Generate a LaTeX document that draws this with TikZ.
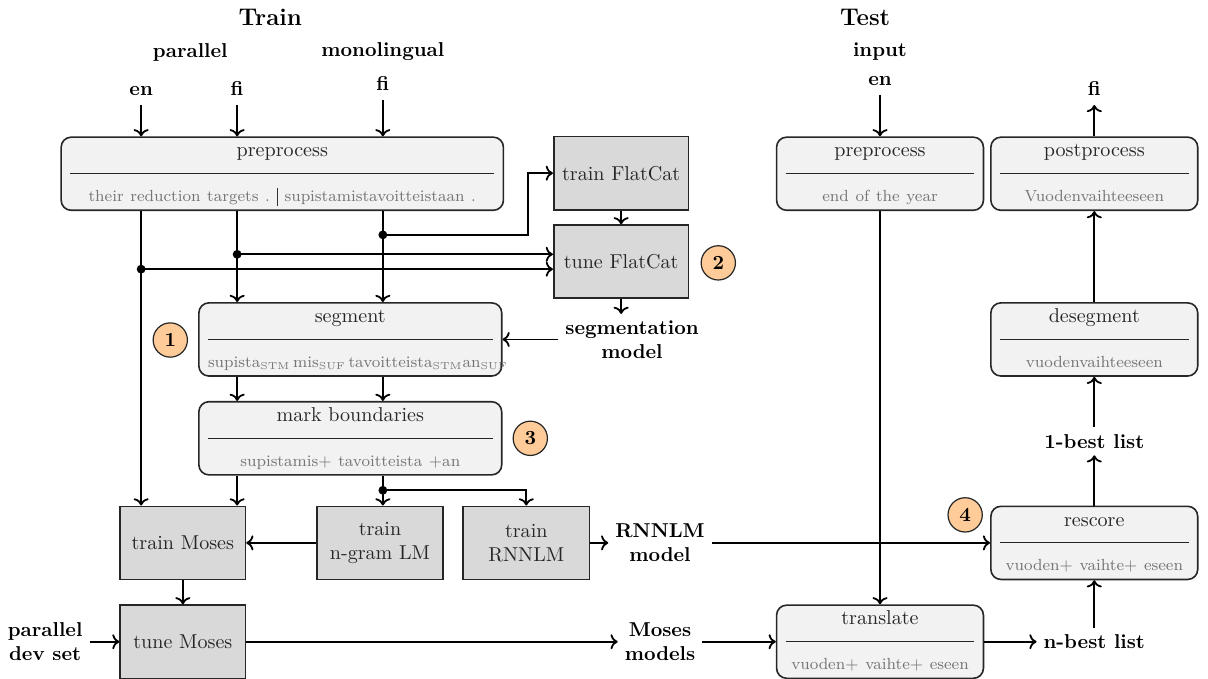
\documentclass[tikz,border=0pt]{standalone}
\usepackage{tikz}
\usetikzlibrary{arrows.meta,positioning,calc}
\usepackage{xcolor}
\definecolor{subgray}{RGB}{118,118,118}
\definecolor{numfill}{RGB}{255,204,153}

% title, rule and example line of a processing stage
\newcommand{\stagetext}[2]{\strut#1\par\vspace{4.5pt}\hrule height 0.5pt\vspace{7pt}{\footnotesize\color{subgray}\strut#2\par}}
\newcommand{\langsep}{\ {\color{black!80}\rule[-0.6ex]{0.6pt}{2.6ex}}\ }
\newcommand{\mtag}[1]{$_{\scriptscriptstyle\mathrm{#1}}$}

\begin{document}
\begin{tikzpicture}[
    stage/.style={draw=black!85, thick, rounded corners=5pt, fill=gray!10, minimum height=1.28cm, inner xsep=0.16cm, inner ysep=0pt, align=center, text=black!85},
    tool/.style={draw=black!85, thick, fill=gray!30, minimum height=1.28cm, align=center, text=black!85},
    num/.style={circle, draw=black!85, semithick, fill=numfill, minimum size=0.6cm, inner sep=0pt, font=\bfseries},
    lbl/.style={font=\bfseries, align=center},
    src/.style={font=\bfseries, text height=1.5ex, text depth=0.25ex},
    flow/.style={->, line width=0.9pt}
]
\useasboundingbox (0,0) rectangle (21.14,-11.88);

% Headers and inputs
\node[lbl, font=\large\bfseries] (train) at (4.73,-0.30) {Train};
\node[lbl, font=\large\bfseries] (test) at (15.14,-0.30) {Test};
\node[lbl] (par) at (3.33,-0.91) {parallel};
\node[lbl] (mono) at (6.70,-0.91) {monolingual};
\node[lbl] (inp) at (15.40,-0.91) {input};
\node[src] (en) at (2.47,-1.58) {en};
\node[src] (fi) at (4.15,-1.58) {fi};
\node[src] (monofi) at (6.70,-1.49) {fi};
\node[src] (ten) at (15.40,-1.40) {en};
\node[src] (outfi) at (19.15,-1.58) {fi};

% Training side
\node[stage, text width=7.42cm] (pre) at (4.94,-3.04) {\stagetext{preprocess}{their reduction targets .\langsep supistamistavoitteistaan .}};
\node[tool, minimum width=2.36cm] (trainfc) at (10.87,-3.03) {train FlatCat};
\node[tool, minimum width=2.36cm] (tunefc) at (10.87,-4.58) {tune FlatCat};
\node[num] (n2) at (12.57,-4.60) {2};
\node[lbl] (segmodel) at (11.06,-5.95) {segmentation\\model};
\node[stage, text width=4.98cm] (seg) at (6.13,-5.94) {\stagetext{segment}{supista\mtag{STM}\,mis\mtag{SUF}\,tavoitteista\mtag{STM}an\mtag{SUF}}};
\node[num] (n1) at (2.98,-5.95) {1};
\node[stage, text width=4.98cm] (mark) at (6.13,-7.67) {\stagetext{mark boundaries}{supistamis+ tavoitteista +an}};
\node[num] (n3) at (9.28,-7.67) {3};
\node[tool, minimum width=2.19cm] (trainmoses) at (3.20,-9.50) {train Moses};
\node[tool, minimum width=2.21cm] (ngram) at (6.65,-9.50) {train\\n-gram LM};
\node[tool, minimum width=2.21cm] (rnnlm) at (9.21,-9.50) {train\\RNNLM};
\node[lbl] (rnnmodel) at (11.55,-9.50) {RNNLM\\model};
\node[tool, minimum width=2.19cm] (tunemoses) at (3.20,-11.23) {tune Moses};
\node[lbl] (devset) at (0.79,-11.23) {parallel\\dev set};
\node[lbl] (mosesmodels) at (11.55,-11.23) {Moses\\models};

% Test side
\node[stage, text width=3.30cm] (tpre) at (15.40,-3.04) {\stagetext{preprocess}{end of the year}};
\node[stage, text width=3.30cm] (post) at (19.15,-3.04) {\stagetext{postprocess}{Vuodenvaihteeseen}};
\node[stage, text width=3.30cm] (deseg) at (19.15,-5.94) {\stagetext{desegment}{vuodenvaihteeseen}};
\node[lbl] (onebest) at (19.15,-7.72) {1-best list};
\node[stage, text width=3.30cm] (rescore) at (19.15,-9.50) {\stagetext{rescore}{vuoden+ vaihte+ eseen}};
\node[num] (n4) at (16.89,-9.01) {4};
\node[stage, text width=3.30cm] (translate) at (15.40,-11.23) {\stagetext{translate}{vuoden+ vaihte+ eseen}};
\node[lbl] (nbest) at (19.15,-11.23) {n-best list};

% Junctions
\coordinate (j1) at ($(en |- tunefc.west)+(0,-0.13)$);
\coordinate (j2) at ($(fi |- tunefc.west)+(0,0.13)$);
\coordinate (j3) at (monofi |- 0,-4.11);
\coordinate (j4) at (monofi |- 0,-8.58);

% Arrows, training
\draw[flow] (en) -- (en |- pre.north);
\draw[flow] (fi) -- (fi |- pre.north);
\draw[flow] (monofi) -- (monofi |- pre.north);
\draw[flow] (en |- pre.south) -- (en |- trainmoses.north);
\draw[flow] (fi |- pre.south) -- (fi |- seg.north);
\draw[flow] (monofi |- pre.south) -- (monofi |- seg.north);
\draw[flow] (j1) -- (j1 -| tunefc.west);
\draw[flow] (j2) -- (j2 -| tunefc.west);
\draw[flow] (j3) -| ([xshift=-0.44cm]trainfc.west) -- (trainfc.west);
\draw[flow] (trainfc) -- (tunefc);
\draw[flow] (tunefc.south) -- (tunefc.south |- segmodel.north);
\draw[flow] (seg.east -| segmodel.west) -- (seg.east);
\draw[flow] (fi |- seg.south) -- (fi |- mark.north);
\draw[flow] (monofi |- seg.south) -- (monofi |- mark.north);
\draw[flow] (fi |- mark.south) -- (fi |- trainmoses.north);
\draw[flow] (monofi |- mark.south) -- (monofi |- ngram.north);
\draw[flow] (j4) -| (rnnlm.north);
\foreach \j in {j1,j2,j3,j4} \fill (\j) circle (2.2pt);
\draw[flow] (ngram) -- (trainmoses);
\draw[flow] (rnnlm) -- (rnnmodel);
\draw[flow] (rnnmodel) -- (rescore);
\draw[flow] (trainmoses) -- (tunemoses);
\draw[flow] (devset) -- (tunemoses);
\draw[flow] (tunemoses) -- (mosesmodels);

% Arrows, test
\draw[flow] (mosesmodels) -- (translate);
\draw[flow] (ten) -- (tpre);
\draw[flow] (tpre) -- (translate);
\draw[flow] (translate) -- (nbest);
\draw[flow] (nbest) -- (rescore);
\draw[flow] (rescore) -- (onebest);
\draw[flow] (onebest) -- (deseg);
\draw[flow] (deseg) -- (post);
\draw[flow] (post) -- (outfi);

\end{tikzpicture}
\end{document}
